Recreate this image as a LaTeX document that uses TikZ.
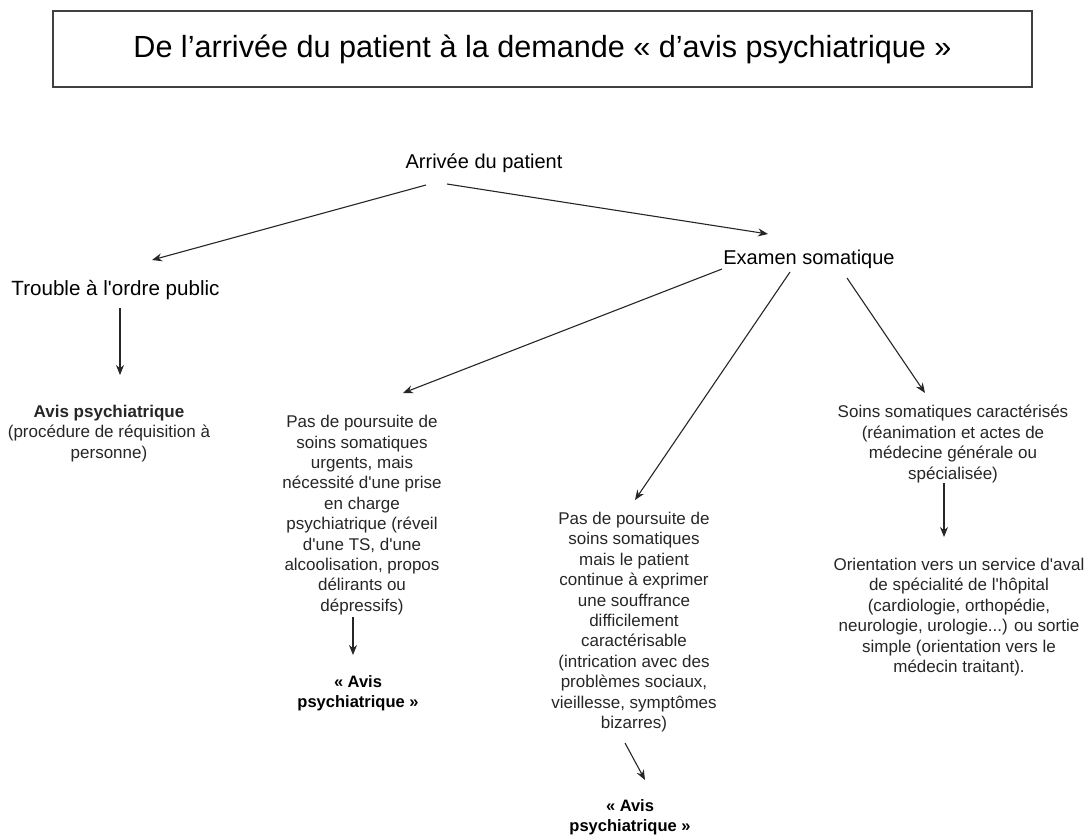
\documentclass[tikz,border=0pt]{standalone}
\usepackage{fontspec}
\setmainfont{Liberation Sans}
\usepackage{tikz}
\usetikzlibrary{arrows.meta,positioning}
\newcommand{\ap}{\textquotesingle}

\begin{document}
\begin{tikzpicture}[
    x=1pt, y=-1pt,
    >={Stealth[length=10pt,width=8pt]},
    titlebox/.style={draw=black!75, line width=1.4pt, minimum width=979pt, minimum height=76pt, inner sep=0pt, font=\fontsize{30.6}{36}\selectfont},
    label/.style={font=\fontsize{20}{24}\selectfont, inner sep=0pt},
    txt/.style={font=\fontsize{17}{20.4}\selectfont, align=center, inner sep=0pt, text=black!85},
    avis/.style={font=\bfseries\fontsize{16.5}{20.4}\selectfont, align=center, inner sep=0pt},
    arr/.style={->, line width=1.1pt, draw=black!85}
]
\useasboundingbox (0,0) rectangle (1089,836);

\node[titlebox] (titre) at (542.5,49) {De l’arrivée du patient à la demande « d’avis psychiatrique »};

\node[label] (arrivee) at (484,163) {Arrivée du patient};
\node[label, font=\fontsize{20.6}{24}\selectfont] (trouble) at (115.5,290) {Trouble à l\ap ordre public};
\node[label] (examen) at (809,259) {Examen somatique};

\node[txt] (avisrequis) at (109,433.5) {\textbf{Avis psychiatrique}\\(procédure de réquisition à\\personne)};
\node[txt] (pasurgent) at (362,515) {Pas de poursuite de\\soins somatiques\\urgents, mais\\nécessité d\ap une prise\\en charge\\psychiatrique (réveil\\d\ap une TS, d\ap une\\alcoolisation, propos\\délirants ou\\dépressifs)};
\node[txt] (passouffrance) at (634,622) {Pas de poursuite de\\soins somatiques\\mais le patient\\continue à exprimer\\une souffrance\\difficilement\\caractérisable\\(intrication avec des\\problèmes sociaux,\\vieillesse, symptômes\\bizarres)};
\node[txt] (soins) at (953,444) {Soins somatiques caractérisés\\(réanimation et actes de\\médecine générale ou\\spécialisée)};
\node[txt] (orient) at (959,617) {Orientation vers un service d\ap aval\\de spécialité de l\ap hôpital\\(cardiologie, orthopédie,\\neurologie, urologie...) ou sortie\\simple (orientation vers le\\médecin traitant).};

\node[avis] (avisun) at (358,693) {« Avis\\psychiatrique »};
\node[avis] (avisdeux) at (630,817.5) {« Avis\\psychiatrique »};

% arrivee
\draw[arr] ([shift={(-58,22)}]arrivee.center) -- ([shift={(36.5,-30)}]trouble.center);
\draw[arr] ([shift={(-37,21)}]arrivee.center) -- ([shift={(-41,-25)}]examen.center);
\draw[arr] ([shift={(4.5,18)}]trouble.center) -- ([shift={(11,-58.5)}]avisrequis.center);

% examen somatique
\draw[arr] ([shift={(-87,10)}]examen.center) -- ([shift={(41,-122)}]pasurgent.center);
\draw[arr] ([shift={(-19,13)}]examen.center) -- ([shift={(1,-122)}]passouffrance.center);
\draw[arr] ([shift={(38,19)}]examen.center) -- ([shift={(-28,-51)}]soins.center);

% suites
\draw[arr] ([shift={(-9,102)}]pasurgent.center) -- ([shift={(-5,-38)}]avisun.center);
\draw[arr] ([shift={(-9,121)}]passouffrance.center) -- ([shift={(15,-37.5)}]avisdeux.center);
\draw[arr] ([shift={(-9,39)}]soins.center) -- ([shift={(-15,-80)}]orient.center);
\end{tikzpicture}
\end{document}
